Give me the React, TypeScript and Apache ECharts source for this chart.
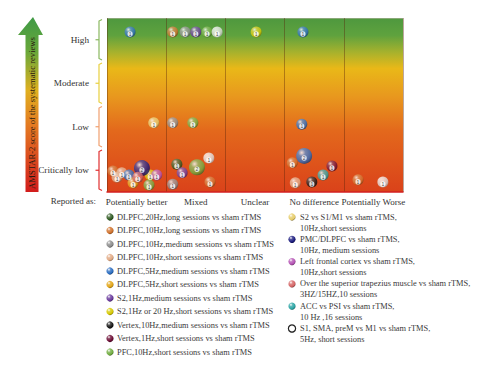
import React, { useEffect, useRef } from "react";
import * as echarts from "echarts";

const xCategories = ["Potentially better", "Mixed", "Unclear", "No difference", "Potentially Worse"];
const yCategories = ["Critically low", "Low", "Moderate", "High"];

// [column position (0-5), AMSTAR-2 position (0-4), number of reviews]
const dlpfc20Long = [[1.18, 0.64, 1]];
const dlpfc10Long = [[1.11, 3.68, 1], [0.1, 0.48, 1], [1.74, 0.23, 1], [3.13, 0.67, 1], [4.24, 0.28, 1]];
const dlpfc10Medium = [[1.32, 3.68, 1], [1.11, 1.59, 1], [1.11, 0.18, 1]];
const dlpfc10Short = [[0.25, 0.44, 1], [0.17, 0.34, 1], [3.18, 0.21, 1]];
const dlpfc5Medium = [[3.33, 0.83, 2], [0.39, 3.68, 1], [3.31, 3.68, 1], [3.29, 1.56, 1], [0.37, 0.39, 1]];
const dlpfc5Short = [[0.44, 0.21, 1]];
const s2Hz1Medium = [[1.5, 3.68, 1], [1.27, 0.44, 1]];
const s2Hz1or20Short = [[2.52, 3.68, 1], [0.73, 0.39, 1]];
const vertex10Medium = [[3.46, 0.23, 1]];
const vertex1Short = [[3.8, 0.6, 1]];
const pfc10Short = [[1.52, 0.57, 2], [1.69, 3.68, 1], [1.45, 1.59, 1], [0.71, 0.16, 1]];
const s2VsS1M1 = [[0.79, 1.59, 1]];
const pmcDlpfc = [[0.59, 0.55, 2]];
const leftFrontal = [[0.84, 0.39, 1]];
const trapezius = [[0.52, 0.34, 1]];
const accPsi = [[3.65, 0.39, 1]];
const s1SmaPrem = [[1.86, 3.68, 1], [1.72, 0.78, 1], [4.66, 0.23, 1]];

const leftLegendNames = [
  "DLPFC,20Hz,long sessions vs sham rTMS",
  "DLPFC,10Hz,long sessions vs sham rTMS",
  "DLPFC,10Hz,medium sessions vs sham rTMS",
  "DLPFC,10Hz,short sessions vs sham rTMS",
  "DLPFC,5Hz,medium sessions vs sham rTMS",
  "DLPFC,5Hz,short sessions vs sham rTMS",
  "S2,1Hz,medium sessions vs sham rTMS",
  "S2,1Hz or 20 Hz,short sessions vs sham rTMS",
  "Vertex,10Hz,medium sessions vs sham rTMS",
  "Vertex,1Hz,short sessions vs sham rTMS",
  "PFC,10Hz,short sessions vs sham rTMS",
];
const rightLegendNames = [
  "S2 vs S1/M1 vs sham rTMS,\n10Hz,short sessions",
  "PMC/DLPFC vs sham rTMS,\n10Hz, medium sessions",
  "Left frontal cortex vs sham rTMS,\n10Hz,short sessions",
  "Over the superior trapezius muscle vs sham rTMS,\n3HZ/15HZ,10 sessions",
  "ACC vs PSI vs sham rTMS,\n10 Hz ,16 sessions",
  "S1, SMA, preM vs M1 vs sham rTMS,\n5Hz, short sessions",
];
const leftColors = ["#2f5a22", "#d0702a", "#8c8c8c", "#e2aa84", "#2a6cc0", "#e2a414", "#6a3a9c", "#d6c800", "#151515", "#6c0c34", "#70ac40"];
const rightColors = ["#e6cc6a", "#1c1c80", "#b452b4", "#d46464", "#2aa4a4", "#ffffff"];
const leftData = [dlpfc20Long, dlpfc10Long, dlpfc10Medium, dlpfc10Short, dlpfc5Medium, dlpfc5Short, s2Hz1Medium, s2Hz1or20Short, vertex10Medium, vertex1Short, pfc10Short];
const rightData = [s2VsS1M1, pmcDlpfc, leftFrontal, trapezius, accPsi, s1SmaPrem];
const bracketColors = ["#e03030", "#f0a070", "#e8d040", "#8ab860"];

const SERIF = "'Liberation Serif', 'DejaVu Serif', serif";

function shade(hex: string, f: number) {
  const n = parseInt(hex.slice(1), 16);
  let r = (n >> 16) & 255, g = (n >> 8) & 255, b = n & 255;
  if (f >= 0) {
    r = r + (255 - r) * f; g = g + (255 - g) * f; b = b + (255 - b) * f;
  } else {
    r = r * (1 + f); g = g * (1 + f); b = b * (1 + f);
  }
  return `rgb(${Math.round(r)},${Math.round(g)},${Math.round(b)})`;
}

function ballFill(color: string) {
  const white = color.toLowerCase() === "#ffffff";
  return new echarts.graphic.RadialGradient(0.35, 0.3, 0.75, [
    { offset: 0, color: "#ffffff" },
    { offset: 0.3, color: white ? "#f4f4f4" : shade(color, 0.25) },
    { offset: 0.75, color: white ? "#d8d8d8" : color },
    { offset: 1, color: white ? "#9a9a9a" : shade(color, -0.45) },
  ]);
}

export default function App() {
  const ref = useRef<HTMLDivElement>(null);
  useEffect(() => {
    if (!ref.current) return;
    const chart = echarts.init(ref.current, undefined, { renderer: "svg" });
    const allNames = [...leftLegendNames, ...rightLegendNames];
    const allColors = [...leftColors, ...rightColors];
    const allData = [...leftData, ...rightData];

    const scatterSeries = allNames.map((name, i) => ({
      type: "scatter",
      name,
      xAxisIndex: 1,
      yAxisIndex: 1,
      z: 5,
      data: allData[i].map((d) => ({ value: d })),
      symbolSize: (v: number[]) => (v[2] > 1 ? 16 : 11),
      itemStyle: { color: ballFill(allColors[i]) },
      label: {
        show: true,
        position: "inside",
        formatter: (p: any) => String(p.value[2]),
        fontSize: 5,
        fontFamily: "Arial",
        color: "#222",
        backgroundColor: "#ffffff",
        borderRadius: 3,
        padding: [0.5, 1.2, 0, 1.2],
        offset: [0, 2],
      },
    }));

    const bracketSeries = {
      type: "custom",
      xAxisIndex: 1,
      yAxisIndex: 1,
      clip: false,
      silent: true,
      data: yCategories.map((_, i) => [i]),
      renderItem: (params: any, api: any) => {
        const i = api.value(0);
        const top = api.coord([0, i + 1]);
        const bottom = api.coord([0, i]);
        const x = top[0] - 8;
        const yt = top[1] + 1.5;
        const yb = bottom[1] - 1.5;
        const ym = (yt + yb) / 2;
        const stroke = bracketColors[i];
        return {
          type: "group",
          children: [
            { type: "polyline", shape: { points: [[x + 3, yt], [x, yt + 1.5], [x, yb - 1.5], [x + 3, yb]] }, style: { stroke, lineWidth: 1.2, fill: null } },
            { type: "line", shape: { x1: x, y1: ym, x2: x - 3.5, y2: ym }, style: { stroke, lineWidth: 1.2 } },
          ],
        };
      },
    };

    const legendFont = `8.4px ${SERIF}`;
    const legendGraphics: any[] = [];
    leftLegendNames.forEach((name, i) => {
      const y = 217 + i * 13.5;
      legendGraphics.push({ type: "circle", shape: { cx: 110, cy: y, r: 3.6 }, style: { fill: ballFill(leftColors[i]) } });
      legendGraphics.push({ type: "text", x: 117, y, style: { text: name, font: legendFont, fill: "#3a3a3a", verticalAlign: "middle" } });
    });
    rightLegendNames.forEach((name, i) => {
      const y = 217 + i * 22.3;
      const white = rightColors[i] === "#ffffff";
      legendGraphics.push({
        type: "circle",
        shape: { cx: 292, cy: y, r: 3.6 },
        style: white ? { fill: "#ffffff", stroke: "#222", lineWidth: 1.2 } : { fill: ballFill(rightColors[i]) },
      });
      legendGraphics.push({ type: "text", x: 300, y: y - 5.5, style: { text: name, font: legendFont, fill: "#3a3a3a", verticalAlign: "top", lineHeight: 11 } });
    });

    const arrowFill = new echarts.graphic.LinearGradient(0, 0, 0, 1, [
      { offset: 0, color: "#3f9a46" },
      { offset: 0.2, color: "#6aa83a" },
      { offset: 0.42, color: "#e0b020" },
      { offset: 0.62, color: "#e47a22" },
      { offset: 1, color: "#d21c1c" },
    ]);

    chart.setOption({
      animation: false,
      grid: {
        left: 107,
        top: 18,
        width: 296,
        height: 174,
        show: true,
        borderWidth: 0,
        backgroundColor: new echarts.graphic.LinearGradient(0, 0, 0, 1, [
          { offset: 0, color: "#4e983e" },
          { offset: 0.1, color: "#5fa23e" },
          { offset: 0.2, color: "#a9b22c" },
          { offset: 0.29, color: "#e9b818" },
          { offset: 0.45, color: "#e8981e" },
          { offset: 0.65, color: "#e3681c" },
          { offset: 1, color: "#da421a" },
        ]),
      },
      xAxis: [
        {
          type: "category",
          data: xCategories,
          boundaryGap: true,
          position: "bottom",
          axisLine: { show: true, lineStyle: { color: "#d42020", width: 1.5 } },
          axisTick: { show: false },
          splitLine: { show: true, lineStyle: { color: "rgba(90,35,10,0.4)", width: 1 } },
          axisLabel: { interval: 0, margin: 5, fontSize: 9, fontFamily: SERIF, color: "#333" },
        },
        { type: "value", min: 0, max: 5, show: false },
      ],
      yAxis: [
        {
          type: "category",
          data: yCategories,
          boundaryGap: true,
          axisLine: { show: false },
          axisTick: { show: false },
          splitLine: { show: false },
          axisLabel: { interval: 0, margin: 18, fontSize: 9.2, fontFamily: SERIF, color: "#333" },
        },
        { type: "value", min: 0, max: 4, show: false },
      ],
      graphic: [
        { type: "line", shape: { x1: 107, y1: 18.5, x2: 403, y2: 18.5 }, style: { stroke: "#8aa878", lineWidth: 1 } },
        {
          type: "polygon",
          shape: { points: [[33, 17], [43, 35], [38.5, 35], [38.5, 192], [25.5, 192], [25.5, 35], [18, 35]] },
          style: { fill: arrowFill },
        },
        {
          type: "text",
          x: 32,
          y: 113,
          rotation: Math.PI / 2,
          style: { text: "AMSTAR-2 score of the systematic reviews", font: `8.6px ${SERIF}`, fill: "#2a1a10", align: "center", verticalAlign: "middle" },
        },
        { type: "text", x: 96, y: 201, style: { text: "Reported as:", font: `9px ${SERIF}`, fill: "#333", align: "right", verticalAlign: "middle" } },
        ...legendGraphics,
      ],
      series: [bracketSeries, ...scatterSeries],
    });
    return () => chart.dispose();
  }, []);
  return <div ref={ref} style={{ position: "absolute", left: 0, top: 0, width: 500, height: 374 }} />;
}
